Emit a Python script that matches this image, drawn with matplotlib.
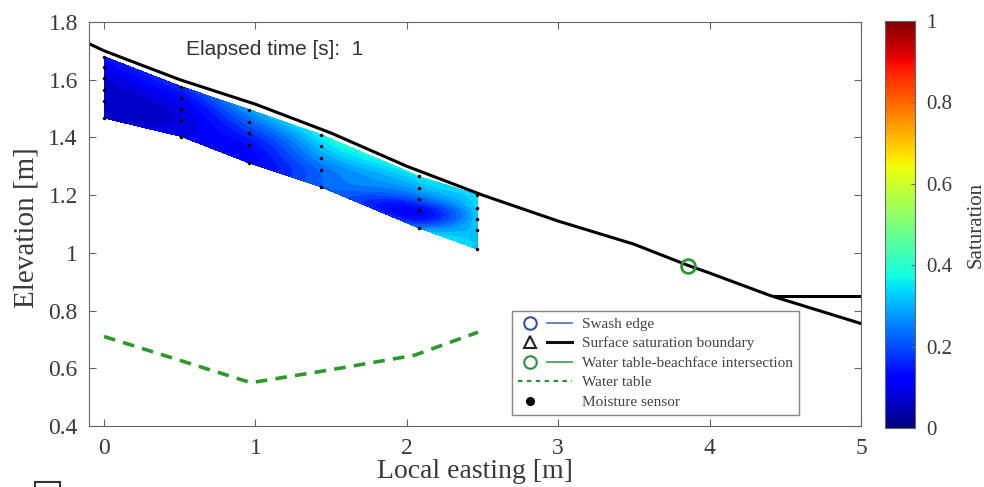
import numpy as np
import matplotlib
matplotlib.use("Agg")
import matplotlib.pyplot as plt
import matplotlib.tri as mtri
from matplotlib.path import Path
from matplotlib.lines import Line2D
from matplotlib.legend_handler import HandlerTuple
from matplotlib.patches import Rectangle
from matplotlib.cm import ScalarMappable
from matplotlib.colors import Normalize

# beach surface profile
surf_x = [-0.1, 0.0, 0.5, 1.0, 1.5, 2.0, 2.5, 3.0, 3.5, 3.86, 4.0, 4.4, 5.0]
surf_z = [1.725, 1.70, 1.60, 1.515, 1.415, 1.30, 1.20, 1.11, 1.03, 0.956, 0.93, 0.852, 0.755]

# surface saturation boundary (flat part)
ssb_x = [4.43, 5.0]
ssb_z = [0.852, 0.852]

# water table
wt_x = [0.0, 0.97, 1.5, 2.05, 2.47]
wt_z = [0.71, 0.55, 0.595, 0.645, 0.725]

# water table - beachface intersection
wtbi_x = [3.86]
wtbi_z = [0.956]

# moisture sensor columns
col_x = [0.0, 0.51, 0.96, 1.435, 2.08, 2.465]
col_z = [
    [1.68, 1.645, 1.605, 1.565, 1.525, 1.467],
    [1.576, 1.536, 1.497, 1.462, 1.403],
    [1.496, 1.455, 1.415, 1.374, 1.311],
    [1.409, 1.371, 1.328, 1.288, 1.228],
    [1.265, 1.225, 1.186, 1.149, 1.086],
    [1.201, 1.155, 1.117, 1.078, 1.013],
]
col_sat = [
    [0.13, 0.10, 0.07, 0.06, 0.06, 0.07],
    [0.17, 0.12, 0.09, 0.08, 0.10],
    [0.28, 0.22, 0.17, 0.13, 0.11],
    [0.37, 0.32, 0.27, 0.23, 0.22],
    [0.35, 0.29, 0.21, 0.12, 0.25],
    [0.34, 0.33, 0.32, 0.31, 0.31],
]

xticks = [0, 1, 2, 3, 4, 5]
xtick_labels = ["0", "1", "2", "3", "4", "5"]
yticks = [0.4, 0.6, 0.8, 1.0, 1.2, 1.4, 1.6, 1.8]
ytick_labels = ["0.4", "0.6", "0.8", "1", "1.2", "1.4", "1.6", "1.8"]
cticks = [0, 0.2, 0.4, 0.6, 0.8, 1.0]
ctick_labels = ["0", "0.2", "0.4", "0.6", "0.8", "1"]

serif = "Liberation Serif"
txt_col = "#3a3a3a"

fig = plt.figure(figsize=(9.84, 4.87), dpi=100)
ax = fig.add_axes([0.0904, 0.1253, 0.7846, 0.8296])

# saturation field from sensors
px = np.concatenate([np.full(len(z), x) for x, z in zip(col_x, col_z)])
pz = np.concatenate(col_z)
ps = np.concatenate(col_sat)

triang = mtri.Triangulation(px, pz)
outline = [(x, z[0]) for x, z in zip(col_x, col_z)] + \
          [(x, z[-1]) for x, z in zip(col_x[::-1], col_z[::-1])]
region = Path(outline)
cx = px[triang.triangles].mean(axis=1)
cz = pz[triang.triangles].mean(axis=1)
triang.set_mask(~region.contains_points(np.column_stack([cx, cz])))

refiner = mtri.UniformTriRefiner(triang)
tri_fine, s_fine = refiner.refine_field(ps, subdiv=3)
ax.tricontourf(tri_fine, np.clip(s_fine, 0, 1), levels=np.linspace(0, 1, 41),
               cmap="jet", vmin=0, vmax=1)

ax.plot(px, pz, "k.", ms=3)
ax.plot(wt_x, wt_z, color="#2b9a2b", lw=2.6, dashes=(3.2, 2.3))
ax.plot(surf_x, surf_z, "k-", lw=2.2)
ax.plot(ssb_x, ssb_z, "k-", lw=2.2)
ax.plot(wtbi_x, wtbi_z, "o", mfc="none", mec="#2e9a2e", mew=2, ms=10)

ax.text(0.54, 1.705, "Elapsed time [s]:  1", family="Liberation Sans",
        fontsize=15, color="#333333", va="center")

ax.set_xlim(-0.1, 5)
ax.set_ylim(0.4, 1.8)
ax.set_xticks(xticks)
ax.set_xticklabels(xtick_labels, family=serif)
ax.set_yticks(yticks)
ax.set_yticklabels(ytick_labels, family=serif)
ax.tick_params(direction="in", top=True, right=True, length=5, labelsize=17,
               color="#666666", labelcolor=txt_col)
ax.tick_params(axis="x", pad=9)
ax.tick_params(axis="y", pad=8)
for s in ax.spines.values():
    s.set_color("#666666")
ax.set_xlabel("Local easting [m]", family=serif, fontsize=20, color=txt_col, labelpad=0)
ax.set_ylabel("Elevation [m]", family=serif, fontsize=21, color=txt_col)
ax.yaxis.set_label_coords(-0.064, 0.49)

# legend
h1 = (Line2D([], [], ls="none", marker="o", mfc="none", mec="#3352a0", mew=1.5, ms=9),
      Line2D([], [], color="#4a70c0", lw=1.2))
h2 = (Line2D([], [], ls="none", marker="^", mfc="none", mec="#222222", mew=1.5, ms=9),
      Line2D([], [], color="#111111", lw=2.2))
h3 = (Line2D([], [], ls="none", marker="o", mfc="none", mec="#2e8f3e", mew=1.5, ms=9),
      Line2D([], [], color="#3a9a4a", lw=1.2))
h4 = Line2D([], [], color="#2e8f3e", lw=1.6, dashes=(2, 2))
h5 = (Line2D([], [], ls="none", marker="o", color="k", ms=5.5),
      Line2D([], [], color="none"))
labels = ["Swash edge", "Surface saturation boundary",
          "Water table-beachface intersection", "Water table", "Moisture sensor"]
leg = ax.legend([h1, h2, h3, h4, h5], labels,
                handler_map={tuple: HandlerTuple(ndivide=2, pad=0.3)},
                loc="lower left", bbox_to_anchor=(0.548, 0.027),
                prop={"family": serif, "size": 11}, labelcolor="#444444",
                frameon=True, fancybox=False, edgecolor="#888888", framealpha=1,
                handlelength=3.5, borderpad=0.4, labelspacing=0.38, handletextpad=0.7,
                borderaxespad=0)
leg.get_frame().set_linewidth(1.0)

# colorbar
cax = fig.add_axes([0.8994, 0.121, 0.0305, 0.836])
cb = fig.colorbar(ScalarMappable(norm=Normalize(0, 1), cmap="jet"), cax=cax)
cb.set_ticks(cticks)
cb.set_ticklabels(ctick_labels)
cax.tick_params(direction="in", length=3, labelsize=15, pad=8,
                color="#666666", labelcolor=txt_col)
for lab in cax.get_yticklabels():
    lab.set_family(serif)
cb.outline.set_edgecolor("#666666")
cb.set_label("Saturation", family=serif, fontsize=15, color=txt_col, labelpad=10)

# stray box at bottom-left of the frame
fig.patches.append(Rectangle((35 / 984, -0.02), 25 / 984, 5 / 487 + 0.02,
                             fill=False, ec="#333333", lw=1.5,
                             transform=fig.transFigure, figure=fig))

fig.savefig("out.png", dpi=100)
